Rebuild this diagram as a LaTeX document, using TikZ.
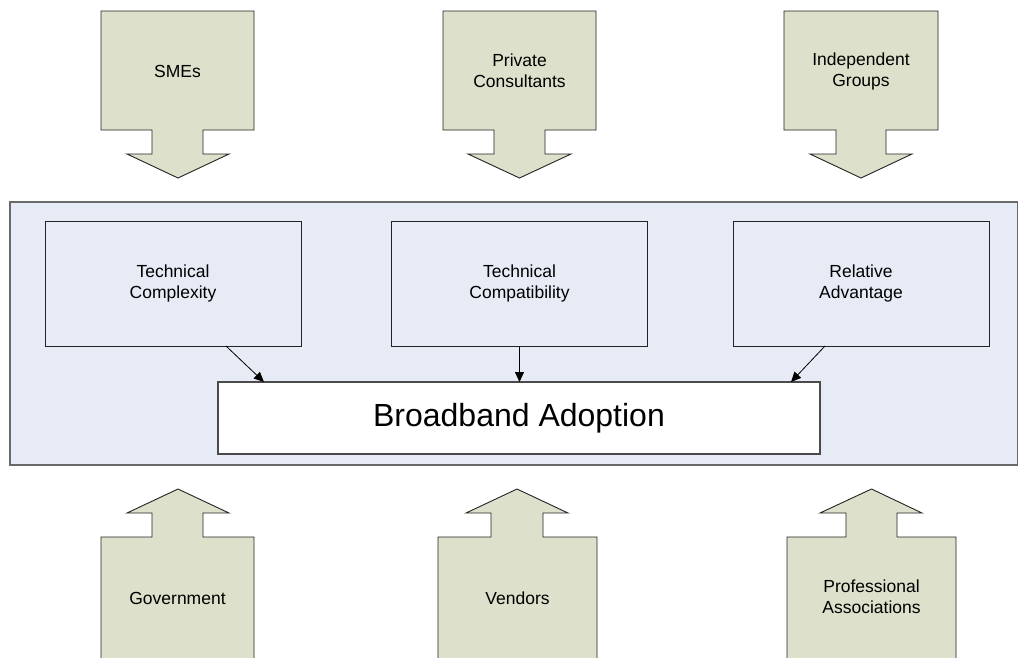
\documentclass[tikz,border=0pt]{standalone}
\usepackage{fontspec}
\setmainfont{Liberation Sans}
\usetikzlibrary{arrows.meta}
\definecolor{blockgreen}{RGB}{221,224,202}
\definecolor{panelblue}{RGB}{230,235,246}
\definecolor{edgegray}{RGB}{105,105,105}
\definecolor{inkdark}{RGB}{35,35,35}
\tikzset{
  block/.style={fill=blockgreen, draw=inkdark, line width=0.9pt, line join=miter},
  label/.style={font=\fontsize{17.5}{21}\selectfont, align=center, text=black, inner sep=0pt},
  panel/.style={fill=panelblue, draw=edgegray, line width=1.4pt, inner sep=0pt, outer sep=0pt},
  factor/.style={fill=panelblue, draw=inkdark, line width=0.9pt, inner sep=0pt, outer sep=0pt,
     minimum width=256pt, minimum height=125pt, font=\fontsize{17.5}{21}\selectfont, align=center},
  target/.style={fill=white, draw=edgegray!70!black, line width=1.4pt, inner sep=0pt, outer sep=0pt,
     minimum width=602pt, minimum height=72pt, font=\fontsize{32}{38}\selectfont},
  link/.style={-{Triangle[length=10pt,width=9pt]}, line width=0.8pt, black}
}
\begin{document}
\begin{tikzpicture}[x=1pt,y=-1pt]
\useasboundingbox (0,0) rectangle (1018,657);
\clip (0,0) rectangle (1018,657);
% top block arrows (pointing down)
\draw[block] (101,11) -- (254,11) -- (254,130) -- (203,130) -- (203,154) -- (229,154) -- (178,178) -- (127,154) -- (152,154) -- (152,130) -- (101,130) -- cycle;
\node[label] (smes) at (177.5,71) {SMEs};
\draw[block] (443,11) -- (596,11) -- (596,130) -- (545,130) -- (545,154) -- (571,154) -- (519.5,178) -- (468,154) -- (494,154) -- (494,130) -- (443,130) -- cycle;
\node[label] (cons) at (519.5,71) {Private\\Consultants};
\draw[block] (784,11) -- (938,11) -- (938,130) -- (886,130) -- (886,154) -- (912,154) -- (861,178) -- (810,154) -- (836,154) -- (836,130) -- (784,130) -- cycle;
\node[label] (indep) at (861,71) {Independent\\Groups};
% bottom block arrows (pointing up)
\draw[block] (101,665) -- (101,537) -- (152,537) -- (152,513) -- (127,513) -- (178,489) -- (229,513) -- (203,513) -- (203,537) -- (254,537) -- (254,665);
\node[label] (gov) at (177.5,598) {Government};
\draw[block] (438,665) -- (438,537) -- (491,537) -- (491,513) -- (466,513) -- (517,489) -- (568,513) -- (543,513) -- (543,537) -- (597,537) -- (597,665);
\node[label] (vend) at (517.5,598) {Vendors};
\draw[block] (787,665) -- (787,537) -- (846,537) -- (846,513) -- (820,513) -- (871.5,489) -- (922,513) -- (897,513) -- (897,537) -- (956,537) -- (956,665);
\node[label] (prof) at (871.5,597) {Professional\\Associations};
% central panel
\node[panel, minimum width=1008pt, minimum height=263pt] (panel) at (514,333.5) {};
\node[factor] (tcx) at (173,283.5) {Technical\\Complexity};
\node[factor] (tcp) at (519.5,283.5) {Technical\\Compatibility};
\node[factor] (rel) at (861,283.5) {Relative\\Advantage};
\node[target] (bb) at (519,418) {Broadband Adoption};
\draw[link] ([xshift=53pt]tcx.south) -- ([xshift=-255pt]bb.north);
\draw[link] (tcp.south) -- (tcp.south |- bb.north);
\draw[link] ([xshift=-36pt]rel.south) -- ([xshift=272pt]bb.north);
\end{tikzpicture}
\end{document}
